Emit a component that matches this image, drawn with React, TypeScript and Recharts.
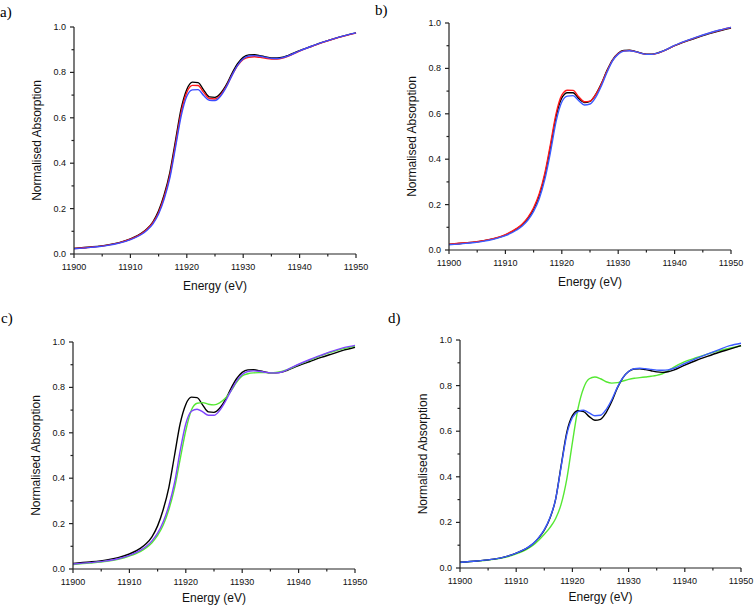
import React from "react";
import { LineChart, Line, XAxis, YAxis, Label } from "recharts";

// energy grid (eV), shared by every spectrum
const ENERGY = [
  11900, 11903, 11906, 11908, 11910, 11912, 11913, 11914, 11915, 11916, 11917, 11918, 11919,
  11920, 11921, 11922, 11923, 11924, 11925, 11926, 11927, 11928, 11929, 11930, 11931, 11932,
  11933, 11934, 11935, 11936, 11937, 11938, 11940, 11942, 11944, 11946, 11948, 11950,
];

const X_TICKS = [11900, 11905, 11910, 11915, 11920, 11925, 11930, 11935, 11940, 11945, 11950];
const Y_TICKS = [0, 0.1, 0.2, 0.3, 0.4, 0.5, 0.6, 0.7, 0.8, 0.9, 1.0];

// panel a)
const A_BLACK = [
  0.025, 0.031, 0.04, 0.05, 0.066, 0.092, 0.112, 0.142, 0.19, 0.262, 0.36, 0.5, 0.64,
  0.725, 0.757, 0.755, 0.722, 0.692, 0.69, 0.708, 0.745, 0.795, 0.838, 0.866, 0.877, 0.878,
  0.874, 0.868, 0.864, 0.864, 0.867, 0.875, 0.896, 0.914, 0.932, 0.948, 0.962, 0.974,
];
const A_RED = [
  0.024, 0.03, 0.039, 0.049, 0.065, 0.09, 0.11, 0.138, 0.183, 0.252, 0.346, 0.484, 0.624,
  0.712, 0.743, 0.742, 0.712, 0.685, 0.683, 0.701, 0.738, 0.787, 0.83, 0.857, 0.867, 0.869,
  0.866, 0.862, 0.859, 0.859, 0.863, 0.872, 0.894, 0.913, 0.931, 0.947, 0.961, 0.973,
];
const A_BLUE = [
  0.023, 0.029, 0.038, 0.048, 0.063, 0.087, 0.106, 0.133, 0.176, 0.243, 0.335, 0.47, 0.608,
  0.695, 0.723, 0.724, 0.698, 0.677, 0.676, 0.696, 0.735, 0.786, 0.831, 0.86, 0.872, 0.874,
  0.871, 0.866, 0.862, 0.861, 0.865, 0.873, 0.895, 0.914, 0.932, 0.948, 0.962, 0.974,
];

// panel b)
const B_BLACK = [
  0.025, 0.031, 0.04, 0.05, 0.066, 0.093, 0.112, 0.14, 0.18, 0.24, 0.33, 0.455, 0.59,
  0.67, 0.693, 0.693, 0.668, 0.65, 0.655, 0.685, 0.732, 0.79, 0.838, 0.867, 0.879, 0.88,
  0.875, 0.868, 0.863, 0.863, 0.868, 0.877, 0.9, 0.919, 0.936, 0.952, 0.966, 0.978,
];
const B_RED = [
  0.026, 0.032, 0.041, 0.051, 0.068, 0.095, 0.115, 0.144, 0.186, 0.248, 0.34, 0.468, 0.602,
  0.682, 0.704, 0.703, 0.675, 0.653, 0.656, 0.684, 0.73, 0.787, 0.835, 0.865, 0.877, 0.879,
  0.874, 0.867, 0.862, 0.862, 0.867, 0.876, 0.9, 0.92, 0.938, 0.954, 0.968, 0.98,
];
const B_BLUE = [
  0.023, 0.029, 0.038, 0.048, 0.063, 0.088, 0.106, 0.132, 0.17, 0.226, 0.312, 0.432, 0.568,
  0.652, 0.678, 0.68, 0.658, 0.639, 0.643, 0.672, 0.722, 0.782, 0.833, 0.863, 0.876, 0.878,
  0.874, 0.867, 0.862, 0.862, 0.867, 0.877, 0.901, 0.921, 0.939, 0.955, 0.969, 0.981,
];

// panel c)
const C_BLACK = [
  0.025, 0.031, 0.04, 0.05, 0.066, 0.092, 0.112, 0.142, 0.19, 0.262, 0.36, 0.5, 0.64,
  0.725, 0.757, 0.755, 0.722, 0.692, 0.69, 0.708, 0.745, 0.795, 0.838, 0.866, 0.877, 0.878,
  0.874, 0.868, 0.864, 0.864, 0.867, 0.875, 0.896, 0.914, 0.932, 0.948, 0.964, 0.977,
];
const C_GREEN = [
  0.02, 0.026, 0.034, 0.043, 0.057, 0.078, 0.094, 0.116, 0.148, 0.194, 0.262, 0.356, 0.484,
  0.61, 0.7, 0.73, 0.733, 0.726, 0.723, 0.732, 0.752, 0.784, 0.822, 0.85, 0.86, 0.864,
  0.865, 0.865, 0.865, 0.866, 0.87, 0.878, 0.9, 0.92, 0.94, 0.957, 0.971, 0.982,
];
const C_PURPLE = [
  0.022, 0.028, 0.036, 0.045, 0.06, 0.083, 0.1, 0.124, 0.158, 0.208, 0.28, 0.38, 0.52,
  0.64, 0.695, 0.704, 0.692, 0.677, 0.677, 0.698, 0.737, 0.785, 0.828, 0.857, 0.87, 0.873,
  0.871, 0.867, 0.864, 0.864, 0.868, 0.878, 0.902, 0.923, 0.942, 0.96, 0.975, 0.985,
];

// panel d)
const D_GREEN = [
  0.024, 0.03, 0.038, 0.047, 0.062, 0.084, 0.1, 0.122, 0.148, 0.177, 0.216, 0.28, 0.39,
  0.55, 0.7, 0.79, 0.83, 0.838, 0.83, 0.817, 0.811, 0.813, 0.82, 0.827, 0.832, 0.835,
  0.838, 0.841, 0.845, 0.852, 0.865, 0.88, 0.905, 0.922, 0.938, 0.952, 0.964, 0.975,
];
const D_BLACK = [
  0.025, 0.031, 0.039, 0.049, 0.065, 0.088, 0.106, 0.132, 0.166, 0.218, 0.3, 0.45, 0.595,
  0.668, 0.69, 0.686, 0.664, 0.648, 0.652, 0.682, 0.73, 0.79, 0.835, 0.862, 0.873, 0.874,
  0.87, 0.865, 0.86, 0.858, 0.861, 0.868, 0.89, 0.91, 0.928, 0.945, 0.96, 0.975,
];
const D_BLUE = [
  0.025, 0.031, 0.039, 0.049, 0.065, 0.089, 0.107, 0.133, 0.168, 0.22, 0.3, 0.445, 0.585,
  0.66, 0.686, 0.692, 0.68, 0.668, 0.67, 0.695, 0.738, 0.792, 0.835, 0.862, 0.874, 0.876,
  0.874, 0.871, 0.868, 0.867, 0.869, 0.875, 0.897, 0.918, 0.938, 0.957, 0.975, 0.986,
];

const SANS = '"Liberation Sans", Arial, sans-serif';
const SERIF = '"Liberation Serif", "Times New Roman", serif';

type Series = { values: number[]; color: string };

const XTick = (props: any) => {
  const { x, y, payload } = props;
  const major = payload.value % 10 === 0;
  return (
    <g>
      <line x1={x} x2={x} y1={y} y2={y + (major ? 4 : 2.5)} stroke="#222" strokeWidth={1.2} />
      {major && (
        <text x={x} y={y + 16} textAnchor="middle" fontSize={9} fontFamily={SANS} fill="#111">
          {payload.value}
        </text>
      )}
    </g>
  );
};

const YTick = (props: any) => {
  const { x, y, payload } = props;
  const major = Math.round(payload.value * 10) % 2 === 0;
  return (
    <g>
      <line x1={x} x2={x - (major ? 4 : 2.5)} y1={y} y2={y} stroke="#222" strokeWidth={1.2} />
      {major && (
        <text x={x - 8} y={y + 3} textAnchor="end" fontSize={9} fontFamily={SANS} fill="#111">
          {payload.value.toFixed(1)}
        </text>
      )}
    </g>
  );
};

function Panel({
  left,
  top,
  width,
  height,
  titleGap = 36,
  series,
}: {
  left: number;
  top: number;
  width: number;
  height: number;
  titleGap?: number;
  series: Series[];
}) {
  const rows = ENERGY.map((e, i) => {
    const row: Record<string, number> = { e };
    series.forEach((s, k) => (row["s" + k] = s.values[i]));
    return row;
  });
  return (
    <div style={{ position: "absolute", left: left - 60, top: top - 10 }}>
      <LineChart
        width={width + 85}
        height={height + 55}
        data={rows}
        margin={{ top: 10, right: 25, left: 0, bottom: 0 }}
      >
        <XAxis
          dataKey="e"
          type="number"
          domain={[11900, 11950]}
          ticks={X_TICKS}
          interval={0}
          height={45}
          tickSize={0}
          tickMargin={0}
          tickLine={false}
          tick={<XTick />}
          axisLine={{ stroke: "#222", strokeWidth: 1.2 }}
        >
          <Label
            value="Energy (eV)"
            position="insideBottom"
            offset={45 - titleGap}
            style={{ fontSize: 12, fontFamily: SANS, fill: "#111" }}
          />
        </XAxis>
        <YAxis
          type="number"
          domain={[0, 1]}
          ticks={Y_TICKS}
          interval={0}
          width={60}
          tickSize={0}
          tickMargin={0}
          tickLine={false}
          tick={<YTick />}
          axisLine={{ stroke: "#222", strokeWidth: 1.2 }}
        >
          <Label
            value="Normalised Absorption"
            angle={-90}
            position="insideLeft"
            offset={23}
            style={{ fontSize: 12, fontFamily: SANS, fill: "#111", textAnchor: "middle" }}
          />
        </YAxis>
        {series.map((s, k) => (
          <Line
            key={k}
            dataKey={"s" + k}
            type="monotone"
            stroke={s.color}
            strokeWidth={1.4}
            dot={false}
            isAnimationActive={false}
          />
        ))}
      </LineChart>
    </div>
  );
}

const tag = (text: string, left: number, top: number) => (
  <div
    style={{
      position: "absolute",
      left,
      top,
      fontFamily: SERIF,
      fontSize: 15,
      lineHeight: "15px",
      color: "#000",
    }}
  >
    {text}
  </div>
);

export default function App() {
  return (
    <div
      style={{
        position: "absolute",
        left: 0,
        top: 0,
        width: 756,
        height: 607,
        background: "#fff",
        overflow: "hidden",
      }}
    >
      {tag("a)", 0, 5)}
      {tag("b)", 375, 3)}
      {tag("c)", 1, 311)}
      {tag("d)", 388, 311)}
      <Panel
        left={74}
        top={27}
        width={282}
        height={227}
        series={[
          { values: A_BLACK, color: "#000000" },
          { values: A_RED, color: "#ff1a1a" },
          { values: A_BLUE, color: "#3b4bff" },
        ]}
      />
      <Panel
        left={449}
        top={23}
        width={282}
        height={227}
        series={[
          { values: B_BLACK, color: "#000000" },
          { values: B_RED, color: "#ff1a1a" },
          { values: B_BLUE, color: "#3b5bff" },
        ]}
      />
      <Panel
        left={73}
        top={342}
        width={282}
        height={227}
        titleGap={33}
        series={[
          { values: C_BLACK, color: "#000000" },
          { values: C_GREEN, color: "#55e833" },
          { values: C_PURPLE, color: "#8044ff" },
        ]}
      />
      <Panel
        left={460}
        top={340}
        width={281}
        height={228}
        titleGap={33}
        series={[
          { values: D_GREEN, color: "#55e833" },
          { values: D_BLACK, color: "#000000" },
          { values: D_BLUE, color: "#3b5bff" },
        ]}
      />
    </div>
  );
}
